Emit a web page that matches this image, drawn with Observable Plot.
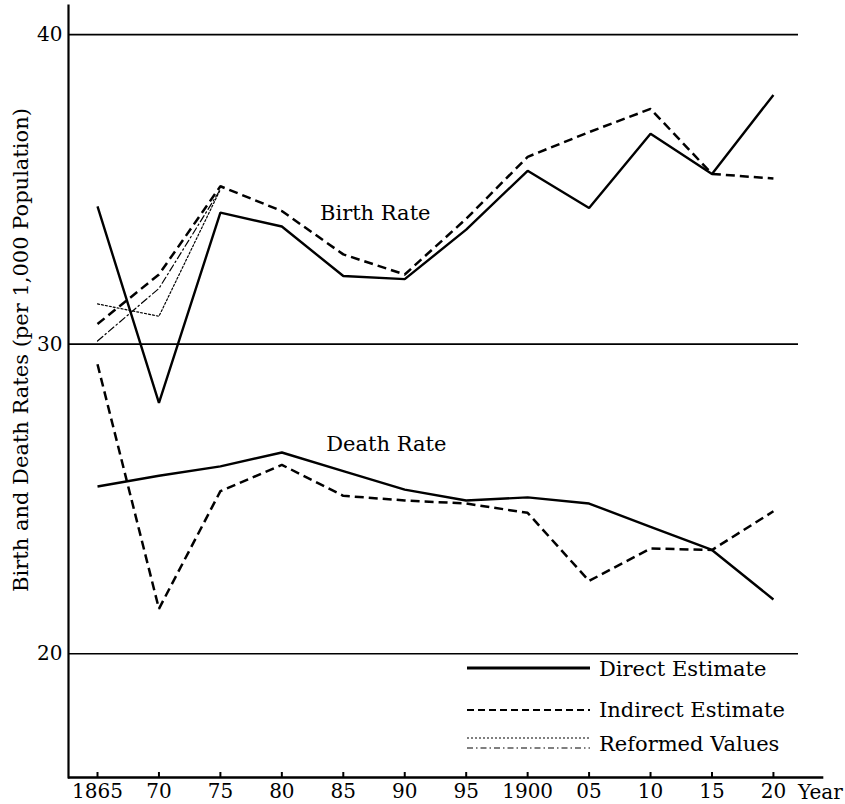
<!DOCTYPE html>
<html><head><meta charset="utf-8">
<script src="https://cdn.jsdelivr.net/npm/d3@7"></script>
<script src="https://cdn.jsdelivr.net/npm/@observablehq/plot@0.6"></script>
<style>
html,body{margin:0;padding:0;background:#fff;}
#chart{position:relative;width:845px;height:804px;}
</style></head><body><div id="chart"></div>
<script>
// ---- data ----
const years = [1865, 1870, 1875, 1880, 1885, 1890, 1895, 1900, 1905, 1910, 1915, 1920];
const birthDirect   = [34.45, 28.1, 34.25, 33.8, 32.2, 32.1, 33.7, 35.6, 34.4, 36.8, 35.5, 38.05];
const birthIndirect = [30.65, 32.25, 35.1, 34.3, 32.9, 32.25, 34.05, 36.05, 36.85, 37.6, 35.5, 35.35];
const deathDirect   = [25.4, 25.75, 26.05, 26.5, 25.9, 25.3, 24.95, 25.05, 24.85, 24.1, 23.35, 21.75];
const deathIndirect = [29.35, 21.45, 25.25, 26.1, 25.1, 24.95, 24.85, 24.55, 22.35, 23.4, 23.35, 24.6];
const reformedYears = [1865, 1870, 1875];
const reformedDotted  = [31.3, 30.9, 35.0];
const reformedDashDot = [30.1, 31.8, 35.0];
const gridValues = [20, 30, 40];
const seriesLabels = ["Birth Rate", "Death Rate"];
const legendLabels = ["Direct Estimate", "Indirect Estimate", "Reformed Values"];
const yTitle = "Birth and Death Rates (per 1,000 Population)";
const xUnit = "Year";

// ---- build tables ----
const toRows = (yrs, vals) => yrs.map((y, i) => ({year: y, value: vals[i]}));
const annotations = [
  {text: seriesLabels[0], year: 1887.6, value: 34.23},
  {text: seriesLabels[1], year: 1888.5, value: 26.77}
];
const fmtYear = y => (y === 1865 || y === 1900) ? String(y) : String(y).slice(2);

const FONT = '"DejaVu Serif", "Liberation Serif", serif';
const xDomain = [1862.64, 1922.04];

const solid = {stroke: "#000", strokeWidth: 2.4, strokeLinejoin: "miter", strokeLinecap: "butt"};
const dashed = {stroke: "#000", strokeWidth: 2.5, strokeDasharray: "9,5", strokeLinejoin: "miter", strokeLinecap: "butt"};
const dotted = {stroke: "#000", strokeWidth: 1.2, strokeDasharray: "2,2"};
const dashdot = {stroke: "#000", strokeWidth: 1.2, strokeDasharray: "7,3,1.5,3"};

const plot = Plot.plot({
  width: 845, height: 804,
  marginLeft: 68, marginRight: 47, marginTop: 5, marginBottom: 27,
  x: {domain: xDomain},
  y: {domain: [16, 40.94]},
  style: {fontFamily: FONT, fontSize: "20px", color: "#000", background: "#fff"},
  marks: [
    Plot.ruleY(gridValues, {stroke: "#000", strokeWidth: 1.6}),
    Plot.frame({anchor: "left", stroke: "#000", strokeWidth: 2.2}),
    Plot.ruleY([16], {x1: xDomain[0], x2: 1924.1, stroke: "#000", strokeWidth: 2.5}),
    Plot.axisX({ticks: years, tickFormat: fmtYear, tickSize: -5, tickPadding: 11, label: null, strokeWidth: 2, fontSize: 20}),
    Plot.axisY({ticks: gridValues, tickSize: 0, tickPadding: 6, label: null, fontSize: 20}),
    Plot.line(toRows(reformedYears, reformedDotted), {x: "year", y: "value", ...dotted}),
    Plot.line(toRows(reformedYears, reformedDashDot), {x: "year", y: "value", ...dashdot}),
    Plot.line(toRows(years, birthIndirect), {x: "year", y: "value", ...dashed}),
    Plot.line(toRows(years, deathIndirect), {x: "year", y: "value", ...dashed}),
    Plot.line(toRows(years, birthDirect), {x: "year", y: "value", ...solid}),
    Plot.line(toRows(years, deathDirect), {x: "year", y: "value", ...solid}),
    Plot.text(annotations, {x: "year", y: "value", text: "text", fontSize: 21, fill: "#000"})
  ]
});
document.getElementById("chart").appendChild(plot);

// ---- non-data decorations: axis title, unit, legend ----
const svg = d3.select(plot);
const xs = plot.scale("x");
svg.append("text")
  .attr("transform", "translate(21,350) rotate(-90)")
  .attr("text-anchor", "middle").attr("dominant-baseline", "central")
  .attr("font-family", FONT).attr("font-size", 21).attr("fill", "#000")
  .text(yTitle);
svg.append("text")
  .attr("x", xs.apply(1920) + 25).attr("y", 799)
  .attr("text-anchor", "start")
  .attr("font-family", FONT).attr("font-size", 20).attr("fill", "#000")
  .text(xUnit);

const legend = [
  {label: legendLabels[0], lines: [{dy: 0, w: 3, dash: null}], textY: 676, y: 668},
  {label: legendLabels[1], lines: [{dy: 0, w: 2.2, dash: "7,4"}], textY: 717, y: 710},
  {label: legendLabels[2], lines: [{dy: -5, w: 1.2, dash: "2,2"}, {dy: 5, w: 1.2, dash: "6,3,1.5,3"}], textY: 751, y: 743}
];
const lx1 = 467, lx2 = 590, tx = 599;
const lg = svg.append("g");
legend.forEach(item => {
  item.lines.forEach(l => {
    lg.append("line").attr("x1", lx1).attr("x2", lx2)
      .attr("y1", item.y + l.dy).attr("y2", item.y + l.dy)
      .attr("stroke", "#000").attr("stroke-width", l.w)
      .attr("stroke-dasharray", l.dash);
  });
  lg.append("text").attr("x", tx).attr("y", item.textY)
    .attr("text-anchor", "start")
    .attr("font-family", FONT).attr("font-size", 21).attr("fill", "#000")
    .text(item.label);
});
</script>
</body></html>
